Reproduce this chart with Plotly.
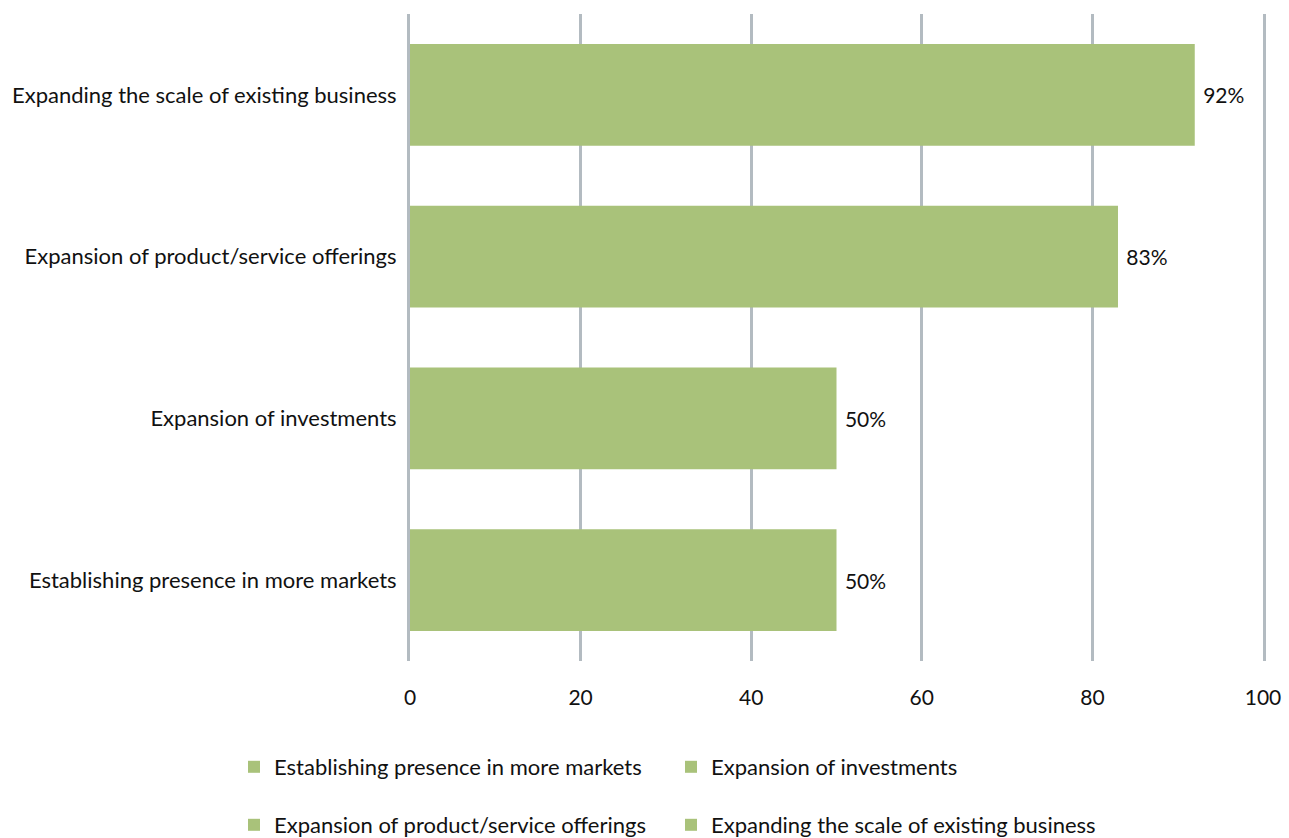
import plotly.graph_objects as go

# Survey categories (bottom to top) and their shares in percent
categories = [
    "Establishing presence in more markets",
    "Expansion of investments",
    "Expansion of product/service offerings",
    "Expanding the scale of existing business",
]
values = [50, 50, 83, 92]
tick_values = [0, 20, 40, 60, 80, 100]

BAR_COLOR = "#A9C27A"
GRID_COLOR = "#B3BBC1"
FONT = "Lato, Carlito, Calibri, sans-serif"

# one legend box per entry, laid out as a 2x2 grid below the axis
legend_ids = ["legend", "legend2", "legend3", "legend4"]
legend_x = [234, 671, 234, 671]
legend_y = [767, 767, 825, 825]

fig = go.Figure()
for cat, val, lid in zip(categories, values, legend_ids):
    fig.add_trace(
        go.Bar(
            x=[val],
            y=[cat],
            orientation="h",
            name=cat,
            showlegend=True,
            marker=dict(color=BAR_COLOR, line=dict(width=0)),
            text=[f" {val}%"],
            textposition="outside",
            textfont=dict(size=21, color="#111111", family=FONT),
            cliponaxis=False,
            legend=lid,
        )
    )

legend_layout = {
    lid: dict(
        orientation="h",
        xref="container",
        yref="container",
        x=lx / 1289,
        y=1 - ly / 838,
        xanchor="left",
        yanchor="middle",
        font=dict(size=22),
        bgcolor="rgba(0,0,0,0)",
    )
    for lid, lx, ly in zip(legend_ids, legend_x, legend_y)
}

fig.update_layout(
    width=1289,
    height=838,
    showlegend=True,
    margin=dict(l=410, r=26, t=14, b=177, autoexpand=False),
    paper_bgcolor="white",
    plot_bgcolor="white",
    barmode="overlay",
    bargap=0.37,
    font=dict(family=FONT, size=22, color="#111111"),
    xaxis=dict(
        range=[0, 100],
        tickvals=tick_values,
        showgrid=True,
        gridcolor=GRID_COLOR,
        gridwidth=3,
        zeroline=False,
        showline=False,
        ticks="",
        ticklabelstandoff=22,
        tickfont=dict(size=21),
    ),
    yaxis=dict(
        categoryorder="array",
        categoryarray=categories,
        showgrid=False,
        showline=True,
        mirror=True,
        linecolor=GRID_COLOR,
        linewidth=3,
        layer="below traces",
        ticks="",
        ticklabelstandoff=6,
        tickfont=dict(size=22),
    ),
    **legend_layout,
)

fig.write_html("out.html")
